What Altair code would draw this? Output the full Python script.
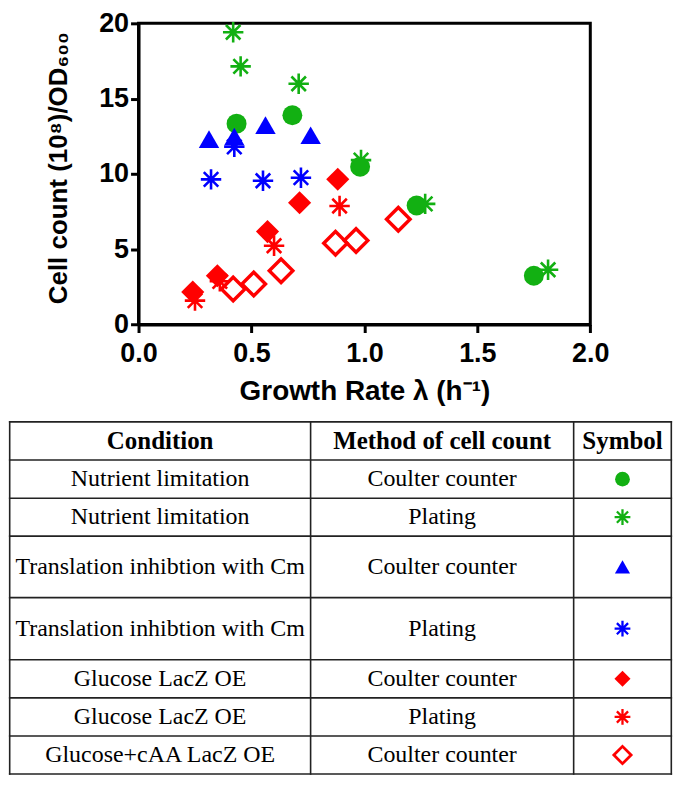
import altair as alt
import pandas as pd

# ---------------- data ----------------
# Nutrient limitation, Coulter counter (green circles)
nl_cc_rate = [0.434, 0.681, 0.981, 1.231, 1.750]
nl_cc_count = [13.34, 13.90, 10.48, 7.90, 3.24]
# Nutrient limitation, plating (green asterisks)
nl_pl_rate = [0.419, 0.452, 0.709, 0.985, 1.269, 1.813]
nl_pl_count = [19.41, 17.14, 15.99, 10.92, 8.01, 3.64]
# Translation inhibition with Cm, Coulter counter (blue triangles)
cm_cc_rate = [0.312, 0.424, 0.562, 0.762]
cm_cc_count = [12.31, 12.48, 13.24, 12.57]
# Translation inhibition with Cm, plating (blue asterisks)
cm_pl_rate = [0.424, 0.321, 0.551, 0.719]
cm_pl_count = [11.80, 9.64, 9.55, 9.75]
# Glucose LacZ OE, Coulter counter (red filled diamonds)
glu_cc_rate = [0.240, 0.349, 0.571, 0.713, 0.882]
glu_cc_count = [2.16, 3.24, 6.17, 8.09, 9.65]
# Glucose LacZ OE, plating (red asterisks)
glu_pl_rate = [0.250, 0.360, 0.600, 0.890]
glu_pl_count = [1.59, 2.87, 5.23, 7.87]
# Glucose+cAA LacZ OE, Coulter counter (red open diamonds)
caa_cc_rate = [0.419, 0.510, 0.631, 0.872, 0.963, 1.150]
caa_cc_count = [2.36, 2.69, 3.57, 5.40, 5.58, 6.99]

series_keys = ["nl_cc", "nl_pl", "cm_cc", "cm_pl", "glu_cc", "glu_pl", "caa_cc"]
conditions = [
    "Nutrient limitation",
    "Nutrient limitation",
    "Translation inhibtion with Cm",
    "Translation inhibtion with Cm",
    "Glucose LacZ OE",
    "Glucose LacZ OE",
    "Glucose+cAA LacZ OE",
]
methods = [
    "Coulter counter",
    "Plating",
    "Coulter counter",
    "Plating",
    "Coulter counter",
    "Plating",
    "Coulter counter",
]
headers = ["Condition", "Method of cell count", "Symbol"]
x_ticks = [0.0, 0.5, 1.0, 1.5, 2.0]
y_ticks = [0, 5, 10, 15, 20]
x_title = "Growth Rate \u03bb (h\u207b\u00b9)"
y_title = "Cell count (10\u2078)/OD\u2086\u2080\u2080"

series_rates = dict(zip(series_keys, [nl_cc_rate, nl_pl_rate, cm_cc_rate, cm_pl_rate,
                                      glu_cc_rate, glu_pl_rate, caa_cc_rate]))
series_counts = dict(zip(series_keys, [nl_cc_count, nl_pl_count, cm_cc_count, cm_pl_count,
                                       glu_cc_count, glu_pl_count, caa_cc_count]))

# ---------------- layout & style ----------------
PLOT_W, PLOT_H = 453.4, 302.3
SANS = "Liberation Sans"
SERIF = "Liberation Serif"
GREEN, BLUE, RED = "#12B012", "#0000FF", "#FF0000"
ASTER = "M0,-1L0,1M-1,0L1,0M-0.71,-0.71L0.71,0.71M-0.71,0.71L0.71,-0.71"

style = {
    "nl_cc": dict(shape="circle", color=GREEN, filled=True, size=400, sw=0, tsize=220, tsw=0),
    "nl_pl": dict(shape=ASTER, color=GREEN, filled=False, size=420, sw=2.6, tsize=250, tsw=2.3),
    "cm_cc": dict(shape="triangle-up", color=BLUE, filled=True, size=420, sw=0, tsize=230, tsw=0),
    "cm_pl": dict(shape=ASTER, color=BLUE, filled=False, size=420, sw=2.6, tsize=250, tsw=2.3),
    "glu_cc": dict(shape="diamond", color=RED, filled=True, size=540, sw=0, tsize=260, tsw=0),
    "glu_pl": dict(shape=ASTER, color=RED, filled=False, size=420, sw=2.6, tsize=250, tsw=2.3),
    "caa_cc": dict(shape="diamond", color=RED, filled=False, size=560, sw=3.4, tsize=300, tsw=2.8),
}
draw_order = ["nl_pl", "cm_pl", "glu_pl", "nl_cc", "cm_cc", "glu_cc", "caa_cc"]

# table geometry (pixels, relative to the plot area's top-left corner)
COL_WIDTHS = [302, 264, 98]
ROW_HEIGHTS = [38.3, 38.3, 38.0, 61.8, 62.3, 38.3, 38.3, 38.0]
TABLE_X0 = -129.3
TABLE_Y0 = 400

# ---------------- scatter ----------------
rows = []
for key in series_keys:
    for r, c in zip(series_rates[key], series_counts[key]):
        rows.append({"series": key, "rate": r, "count": c})
points = pd.DataFrame(rows)

x_axis = alt.Axis(values=x_ticks, format=".1f", title=x_title, grid=False,
                  tickSize=8, tickWidth=3, tickColor="black",
                  domainWidth=3, domainColor="black",
                  labelFont=SANS, labelFontSize=27, labelFontWeight="bold", labelColor="black",
                  labelPadding=8, labelFlush=False, labelOverlap=False,
                  titleFont=SANS, titleFontSize=28, titleFontWeight="bold", titleColor="black",
                  titlePadding=11)
y_axis = alt.Axis(values=y_ticks, format="d", title=y_title, grid=False,
                  tickSize=8, tickWidth=3, tickColor="black",
                  domainWidth=3, domainColor="black",
                  labelFont=SANS, labelFontSize=27, labelFontWeight="bold", labelColor="black",
                  labelPadding=2, labelFlush=False, labelOverlap=False,
                  titleFont=SANS, titleFontSize=26, titleFontWeight="bold", titleColor="black",
                  titlePadding=27, titleY=145)
x_enc = alt.X("rate:Q", scale=alt.Scale(domain=[0, 2], nice=False, zero=False), axis=x_axis)
y_enc = alt.Y("count:Q", scale=alt.Scale(domain=[0, 20], nice=False), axis=y_axis)


def mark_kwargs(key, table=False):
    st = style[key]
    kw = dict(shape=st["shape"], color=st["color"], filled=st["filled"], opacity=1,
              size=st["tsize"] if table else st["size"])
    sw = st["tsw"] if table else st["sw"]
    if sw:
        kw["strokeWidth"] = sw
    return kw


scatter_layers = [
    alt.Chart(points).transform_filter(alt.datum.series == key)
    .mark_point(**mark_kwargs(key)).encode(x=x_enc, y=y_enc)
    for key in draw_order
]
scatter = alt.layer(*scatter_layers)

# ---------------- table ----------------
col_edges = [0]
for w in COL_WIDTHS:
    col_edges.append(col_edges[-1] + w)
row_edges = [0]
for h in ROW_HEIGHTS:
    row_edges.append(row_edges[-1] + h)
TW, TH = col_edges[-1], row_edges[-1]
col_mid = [(col_edges[i] + col_edges[i + 1]) / 2 for i in range(3)]
row_mid = [(row_edges[i] + row_edges[i + 1]) / 2 for i in range(len(ROW_HEIGHTS))]

tx = alt.Scale(domain=[0, TW], range=[TABLE_X0, TABLE_X0 + TW], nice=False, zero=False)
ty = alt.Scale(domain=[0, TH], range=[TABLE_Y0, TABLE_Y0 + TH], nice=False, zero=False)

lines = ([{"x1": 0, "x2": TW, "y1": e, "y2": e} for e in row_edges] +
         [{"x1": e, "x2": e, "y1": 0, "y2": TH} for e in col_edges])
rules = alt.Chart(pd.DataFrame(lines)).mark_rule(
    color="#222222", strokeWidth=1.6, strokeCap="square"
).encode(
    x=alt.X("x1:Q", scale=tx, axis=None), x2="x2:Q",
    y=alt.Y("y1:Q", scale=ty, axis=None), y2="y2:Q",
)

head_df = pd.DataFrame({"text": headers, "cx": col_mid, "cy": [row_mid[0]] * 3})
head_text = alt.Chart(head_df).mark_text(
    font=SERIF, fontSize=25, fontWeight="bold", color="black", align="center", baseline="middle"
).encode(x=alt.X("cx:Q", scale=tx, axis=None), y=alt.Y("cy:Q", scale=ty, axis=None), text="text:N")

body = []
for i, (c, m) in enumerate(zip(conditions, methods)):
    body.append({"text": c, "cx": col_mid[0], "cy": row_mid[i + 1]})
    body.append({"text": m, "cx": col_mid[1], "cy": row_mid[i + 1]})
body_text = alt.Chart(pd.DataFrame(body)).mark_text(
    font=SERIF, fontSize=24, color="black", align="center", baseline="middle"
).encode(x=alt.X("cx:Q", scale=tx, axis=None), y=alt.Y("cy:Q", scale=ty, axis=None), text="text:N")

sym_df = pd.DataFrame({"series": series_keys,
                       "cx": [col_mid[2]] * len(series_keys),
                       "cy": row_mid[1:]})
symbol_layers = [
    alt.Chart(sym_df).transform_filter(alt.datum.series == key)
    .mark_point(**mark_kwargs(key, table=True))
    .encode(x=alt.X("cx:Q", scale=tx, axis=None), y=alt.Y("cy:Q", scale=ty, axis=None))
    for key in series_keys
]
table = alt.layer(rules, head_text, body_text, *symbol_layers)

chart = (
    alt.layer(scatter, table)
    .resolve_scale(x="independent", y="independent")
    .properties(width=PLOT_W, height=PLOT_H, padding=0, background="white")
    .configure_view(stroke="black", strokeWidth=3)
)

chart.save("out.html", embed_options={"renderer": "svg", "actions": False})
